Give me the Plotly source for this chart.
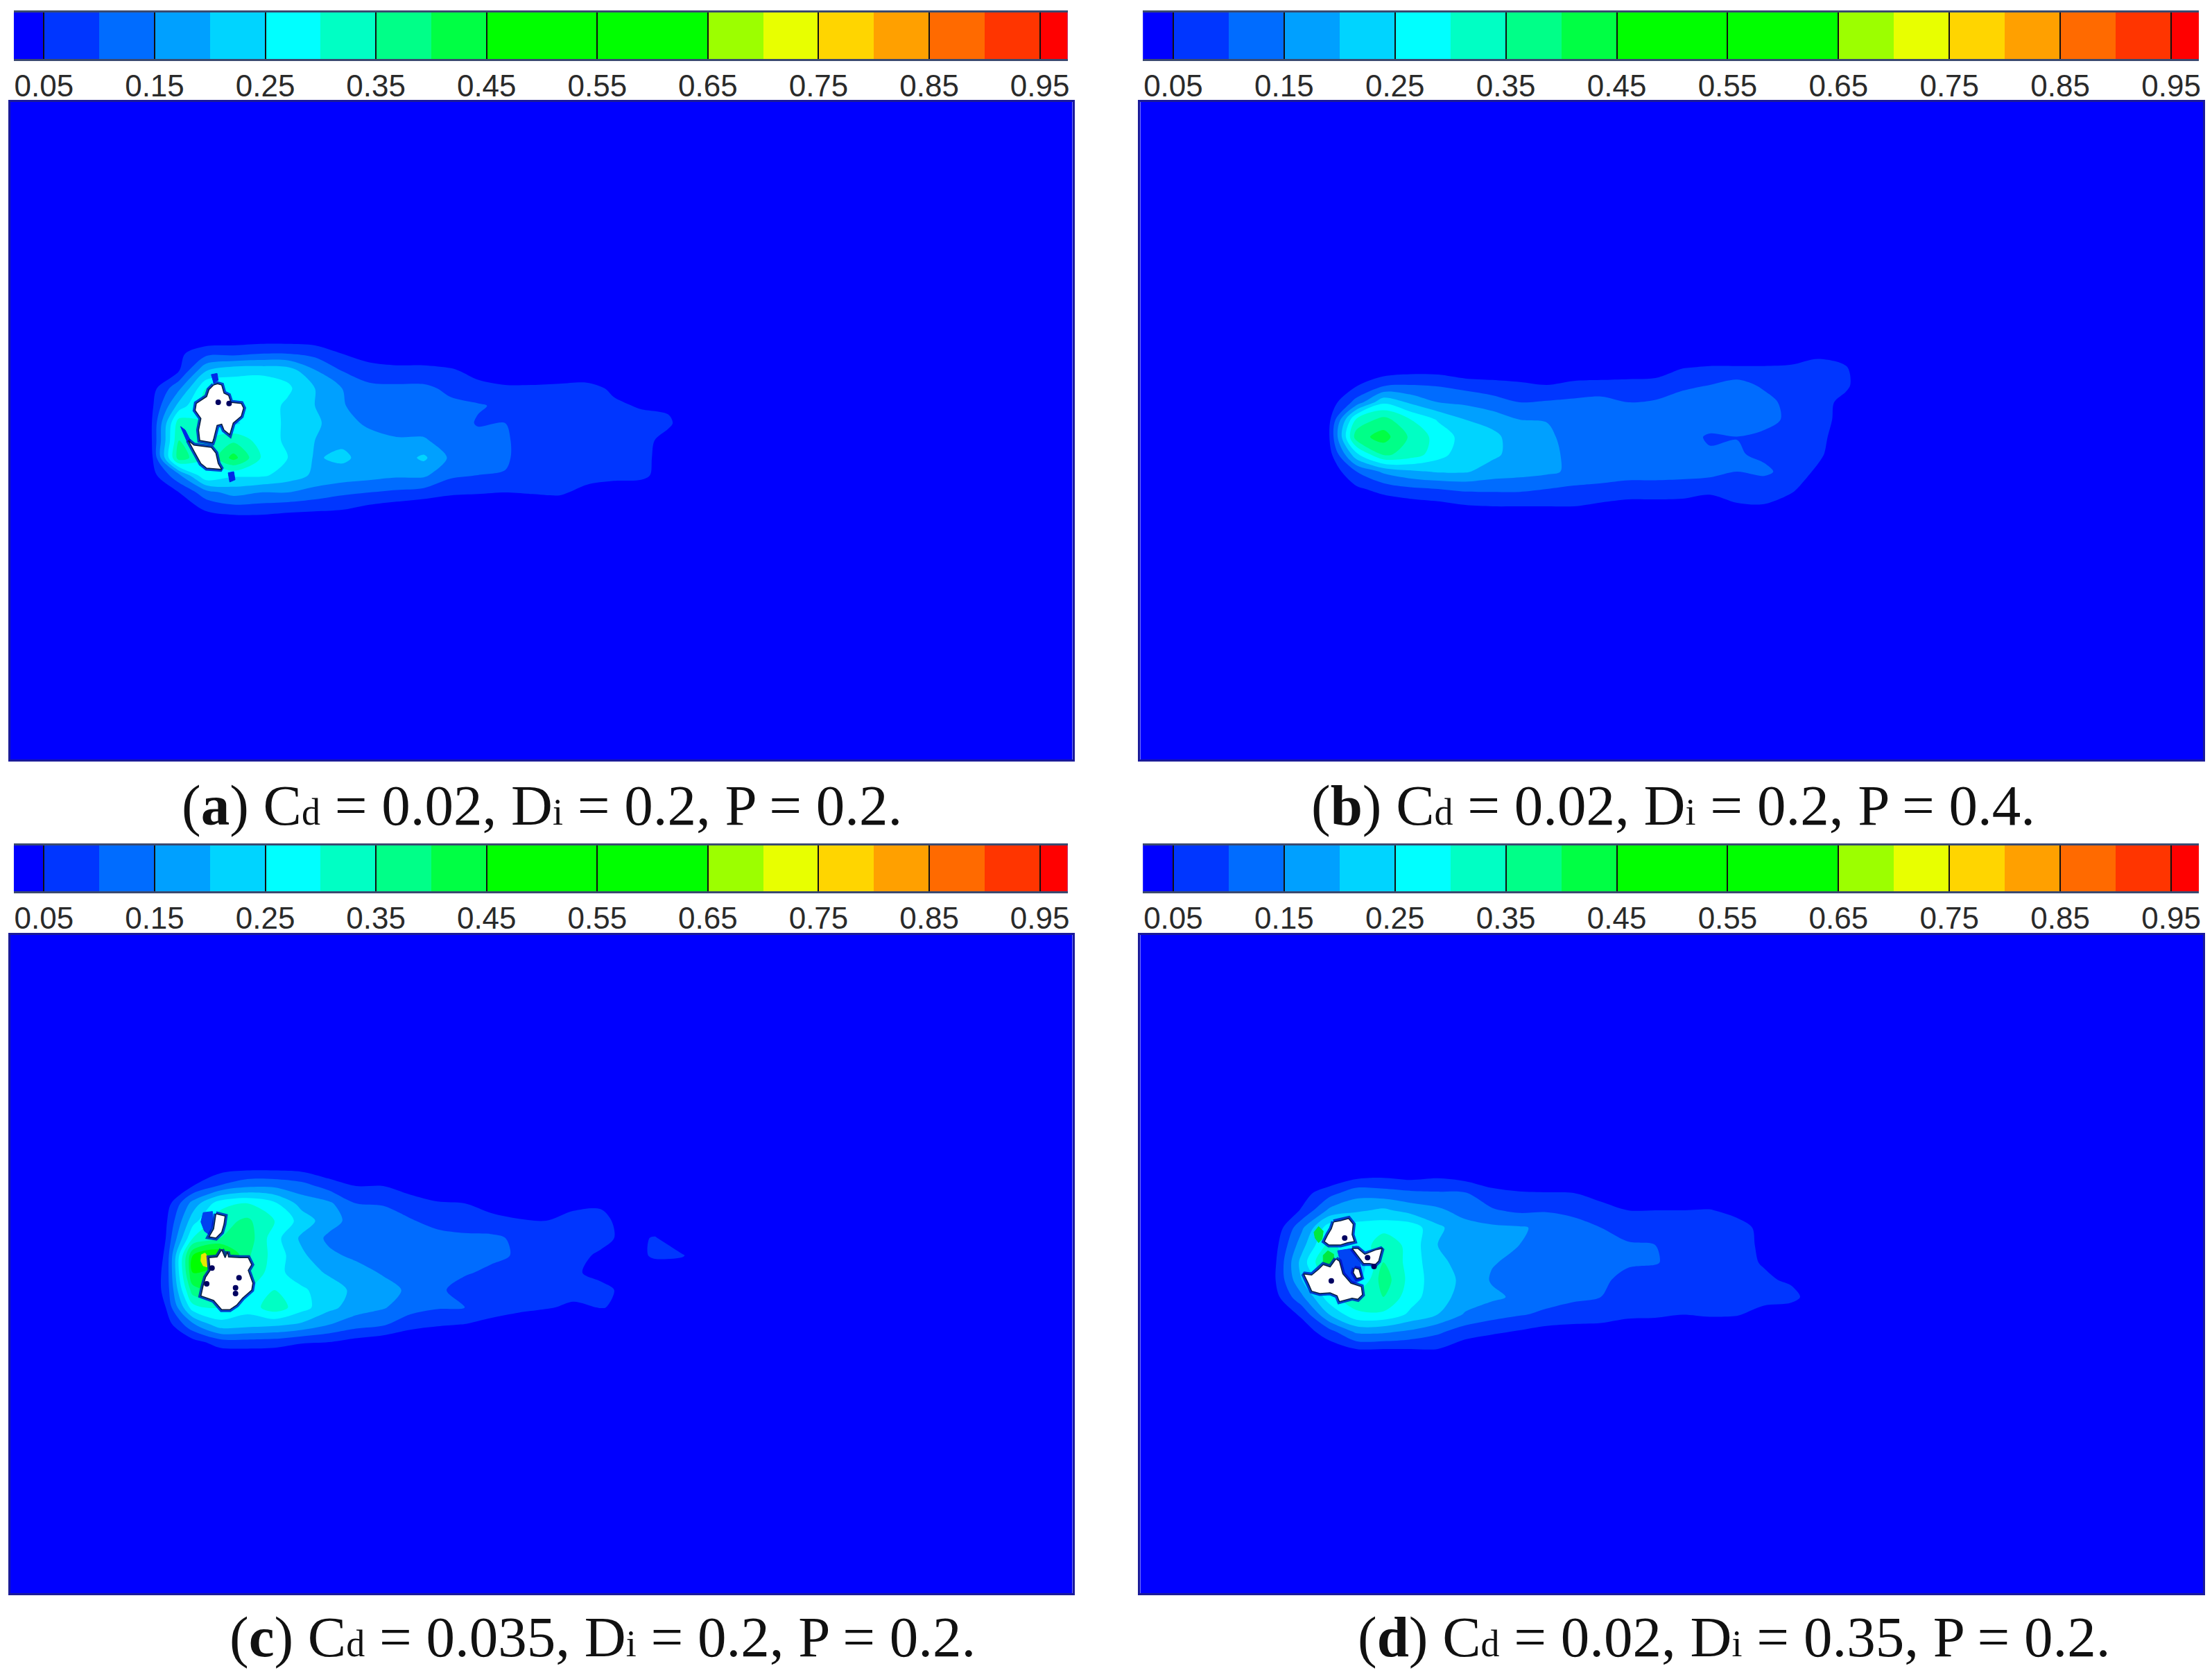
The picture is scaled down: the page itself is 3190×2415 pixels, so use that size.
import numpy as np
import plotly.graph_objects as go

# Sampling positions of the field (same sensor units in all four panels)
sample_x = [0, 75, 150, 225, 300, 375, 450, 525, 600, 675, 750, 825, 900, 975, 1050, 1125, 1200, 1275, 1350, 1425, 1500, 1575]
sample_y = [0, 75, 150, 225, 300, 375, 450, 525, 600, 675, 750, 825, 900]

# Field values in hundredths, one row per sample_y
field_a = [
 [0]*22,
 [0,0,0,0.5,1.2,1.2,1.2,1.2,0.5,0,0,0,0,0,0,0,0,0,0,0,0,0],
 [0,0,4,8.5,8.5,10,10,8.5,5,2,1,1,0,0,0,0,0,0,0,0,0,0],
 [0,1,5,20,24,24,23,15.5,10,8,7,7,6,3,1,1,1,1,0,0,0,0],
 [0,3,14,30,27,28,26,20,15,11,11,11,9,7,6,6,6.5,7,4,1,0,0],
 [0,4,22,32,30,28,24,20,15.5,12,12,12,11,10.5,9,8,8,8,6,4.5,4,0],
 [0,5,33,30,24,28,24,21,17,14,13,13,13,9.5,10,8,8,8,8,7,6,0],
 [0,5,35,30,34,28,24,20,19,17,15.5,15.5,13,12,10.5,8,8,8,8,7,3,0],
 [0,4,38,30,42,30,25,19.5,21,18,17,21,14,12,10.5,8,8,8,8,7,2,0],
 [0,3,14,30,26,26,23,19,18,17,16,16,11,10,9.8,8,8,7.5,7,6.5,2,0],
 [0,0,5,13,17,15,15,13,11,10,9,8,6,5.5,5,5.5,6,3,1,1,0,0],
 [0,0,1,5.5,7,7,6,5.5,5,3,1.5,0,0,0,0,0,0,0,0,0,0,0],
 [0]*22,
]
field_b = [
 [0]*22,
 [0,0,0,0,0,0,0,0,0,0,0,0,0,0,0,0,0,0,0,2,1,0],
 [0,0,0,1,2,2,0,0,0,0,0,0,1,2,4.8,5.5,5.5,5.5,6,8,5.5,0],
 [0,0,4.5,9,10,9.5,8,7,6,5,6.5,7,7,7,9,10,12,9,8,8,6,0],
 [0,2,12,24,19,15,14,12,10,10.5,11,11.5,10,10.5,12,13,14,12,8,7,3.5,0],
 [0,4,31,37,30,24.5,20,18,15,14.9,14,14,14,14,14,14,14,13,8,7,3,0],
 [0,5,38,42,34,28,23,21.5,17,15.5,14,14,14,14,13,9,9.9,8,7,6.5,2,0],
 [0,3,24,36,33,27,22,21,18,16,14,14,14,14,13,11,10.5,9,7,6,1,0],
 [0,1,10,16,19,20.5,20.5,18,17,16,14,13,12,12,12,12,10,11,8,4,0,0],
 [0,0,4,7,9,10,11,11,11,10,9,8.5,8,8,7.5,6,7,7,6,1,0,0],
 [0,0,0,1,2,3,4.5,5,5,5,5,4,3,3,3,3,4.5,4.7,2,0,0,0],
 [0]*22,
 [0]*22,
]
field_c = [
 [0]*22,
 [0,0,0,3,4,4,3.5,1,0,0,0,0,0,0,0,0,0,0,0,0,0,0],
 [0,0,5,10.5,14,14,12,8,5,5,3,1,0,0,0,0,0,0,0,0,0,0],
 [0,2,17,28,30,26,18,16,10,9.5,7,5.5,5,3,1,0,3.5,4,0,0,0,0],
 [0,4,23,33,36,30,23,17,13,13,10.5,8,7.5,6.5,5.5,5,7,7,2,0,0,0],
 [0,5,30,35,38,27,19,14,14,14,14,12,11,11,9,7,7,7,3,5.5,0,0],
 [0,5.5,45,50,36,28,21,16,14,14,14,12.5,13,11,9.5,7,7,4,2,6,5.5,0],
 [0,6,45,40,35,27,22,19.5,17,14.5,15,13,10.5,9,8,7,6,3,0.5,1,1,0],
 [0,6,38,40,30,30,26,22,19,17,14,11,8,7,7,7,7,7,3,0,0,0],
 [0,5,28,30,27,33,27,21.5,17.5,15.5,12,10.5,10,8,6.5,5.5,4,5.2,4.2,0,0,0],
 [0,2,14,23,22,21,19,15,12,10.5,7,5.5,4.8,3,1.5,0,0,0,0,0,0,0],
 [0,0,3,7.5,8,7.5,5.5,5,3,1.5,0,0,0,0,0,0,0,0,0,0,0,0],
 [0]*22,
]
field_d = [
 [0]*22,
 [0,0,0,3,4,3,4,2.5,0,0,0,0,0,0,0,0,0,0,0,0,0,0],
 [0,3,8,13,12,11,10.5,10.3,7,5.5,5.2,5,3,1,0,0,0,0,0,0,0,0],
 [0,5.5,16,19,21,18,16,13,10.5,9,9.5,9,7,5,5,5,5.3,3.5,0.5,0,0,0],
 [1,14,28,28,28,28,21,17,16,15.5,14,11.5,10,8,7,7,7,7,3.5,0,0,0],
 [3,18,32,25,34,28,20,18,16.5,15,13,12,11.5,10.5,10,7,7,7,4,0,0,0],
 [4,22,38,20,35,28,21,18.5,15.3,14,13,13,12.5,10.7,10.5,7.5,7,7,4.5,0.5,0,0],
 [4.5,20,30,22,38,28,22,19,14.5,14,13,12,11,8.5,7,7,7,7,6,4,0,0],
 [3,14,28,33,35,27,22,18,16,14,12,11,10,8,7,7,7,7,7,7,1,0],
 [0.5,6,20,29,29,24,20,14.5,12,10.5,9,7.5,7,6,6,5.1,5.8,5.5,3,1,0,0],
 [0,2,8,16,16,14,11,7.5,6,4.5,3,3,3,2,1,0,0,0,0,0,0,0],
 [0,0,2,5,5,5,5,2,0,0,0,0,0,0,0,0,0,0,0,0,0,0],
 [0]*22,
]

# White (no data) patches, outlines in close-up units, None separates patches
patch_a_x = [205,222,240,245,250,270,280,325,335,325,290,275,250,240,220,205,200,145,140,150,125,130,175,185,205,None,
             95,120,195,215,225,240,175,150,125,110,95]
patch_a_y = [105,100,105,125,140,150,180,185,205,240,270,320,300,275,280,340,355,345,300,250,215,185,155,125,105,None,
             345,365,375,400,445,470,465,445,400,370,345]
spots_a_x = [225, 272]
spots_a_y = [180, 185]

patch_c_x = [125,165,160,150,125,95,115,125,None,
             150,165,175,180,230,265,280,265,285,280,240,215,185,150,115,60,70,80,100,95,130,150]
patch_c_y = [75,85,120,155,180,175,140,75,None,
             230,265,240,262,265,265,295,320,375,405,440,470,490,490,450,430,385,350,320,265,262,230]
spots_c_x = [225, 210, 210, 85, 108]
spots_c_y = [352, 395, 420, 378, 310]

patch_d_x = [165,195,230,250,245,255,225,195,145,125,140,155,165,None,
             245,270,300,350,375,360,345,320,295,280,262,245,None,
             255,275,285,265,250,255,None,
             175,190,205,240,285,290,270,245,190,180,150,105,70,55,35,70,100,120,150,175]
patch_d_y = [65,60,50,75,120,150,155,165,165,150,120,95,65,None,
             180,180,205,185,180,235,250,245,245,225,200,180,None,
             265,270,305,310,285,265,None,
             225,235,290,330,345,380,400,395,410,385,372,375,365,330,290,295,270,250,260,225]
spots_d_x = [155, 213, 312, 340]
spots_d_y = [320, 135, 220, 258]

# Small coloured pockets beside the patches, close-up units
pocket_a_blue_x = [195, 220, 225, 205, 195, None, 268, 292, 298, 275, 268, None, 62, 82, 105, 90, 62]
pocket_a_blue_y = [60, 55, 85, 95, 60, None, 485, 480, 515, 525, 485, None, 285, 300, 345, 350, 285]
pocket_c_blue_x = [70, 110, 112, 95, 75, 60, 70]
pocket_c_blue_y = [70, 65, 120, 165, 150, 110, 70]
pocket_c_hot_x = [62, 78, 90, 86, 70, 60, 62]
pocket_c_hot_y = [252, 245, 262, 305, 300, 280, 252]
pocket_d_blue_x = [182, 245, 280, 290, 250, 210, 195, 182]
pocket_d_blue_y = [190, 180, 245, 315, 332, 290, 240, 190]
pocket_d_green_x = [120, 140, 165, 165, 140, 120, 120, None, 80, 100, 120, 115, 100, 85, 80]
pocket_d_green_y = [210, 190, 205, 240, 260, 240, 210, None, 110, 85, 105, 140, 155, 135, 110]

# Legend bands
band_edges = [round(0.05 * i, 2) for i in range(21)]
band_colors = ["#0000ff", "#0036ff", "#006cff", "#00a0ff", "#00d4ff", "#00ffff", "#00ffc4", "#00ff88", "#00ff44",
               "#00ff00", "#00ff00", "#00ff00", "#00ff00", "#9cff00", "#e8ff00", "#ffd500", "#ffa000", "#ff6a00", "#ff3500", "#ff0000"]
band_mids = [0.025 + 0.05 * i for i in range(20)]
tick_values = [0.05, 0.15, 0.25, 0.35, 0.45, 0.55, 0.65, 0.75, 0.85, 0.95]
tick_labels = ["0.05", "0.15", "0.25", "0.35", "0.45", "0.55", "0.65", "0.75", "0.85", "0.95"]

captions = [
    "(<b>a</b>) C<span style='font-size:54px'>d</span> = 0.02, D<span style='font-size:54px'>i</span> = 0.2, P = 0.2.",
    "(<b>b</b>) C<span style='font-size:54px'>d</span> = 0.02, D<span style='font-size:54px'>i</span> = 0.2, P = 0.4.",
    "(<b>c</b>) C<span style='font-size:54px'>d</span> = 0.035, D<span style='font-size:54px'>i</span> = 0.2, P = 0.2.",
    "(<b>d</b>) C<span style='font-size:54px'>d</span> = 0.02, D<span style='font-size:54px'>i</span> = 0.35, P = 0.2.",
]

W, H = 3190, 2415
colorscale = []
for i, c in enumerate(band_colors):
    colorscale += [[i / 20, c], [(i + 1) / 20, c]]

panels = [
    dict(field=field_a, px=patch_a_x, py=patch_a_y, dx=spots_a_x, dy=spots_a_y, shift=(114.7, 180),
         pockets=[(pocket_a_blue_x, pocket_a_blue_y, "#0028e8")],
         frame=(15, 1548, 147, 1095), xr=(-315.5, 2615.6), yr=(1905, -939), bar=(20, 1541, 18, 85), cap=(782, 1161)),
    dict(field=field_b, px=[], py=[], dx=[], dy=[], shift=(0, 0), pockets=[],
         frame=(1646, 3180, 147, 1095), xr=(-447, 2486), yr=(1845, -999), bar=(1650, 3174, 18, 85), cap=(2415, 1161)),
    dict(field=field_c, px=patch_c_x, py=patch_c_y, dx=spots_c_x, dy=spots_c_y, shift=(133.8, 195),
         pockets=[(pocket_c_blue_x, pocket_c_blue_y, "#0040f0"), (pocket_c_hot_x, pocket_c_hot_y, "#e8e800")],
         frame=(15, 1548, 1348, 2297), xr=(-353.7, 2577), yr=(1911, -936), bar=(20, 1541, 1219, 1285), cap=(870, 2360)),
    dict(field=field_d, px=patch_d_x, py=patch_d_y, dx=spots_d_x, dy=spots_d_y, shift=(57.4, 210),
         pockets=[(pocket_d_blue_x, pocket_d_blue_y, "#0044f4"), (pocket_d_green_x, pocket_d_green_y, "#00e840")],
         frame=(1646, 3180, 1348, 2297), xr=(-371, 2562), yr=(1881, -966), bar=(1650, 3174, 1219, 1285), cap=(2503, 2360)),
]

fig = go.Figure()
layout = dict(width=W, height=H, autosize=False, margin=dict(l=0, r=0, t=0, b=0),
              paper_bgcolor="white", plot_bgcolor="#0000ff", showlegend=False, annotations=[])


def to_field(xs, ys, shift):
    """Close-up units (3x, uniform) to the sensor units of the field."""
    fx = [None if v is None else shift[0] + v * 1.912 / 3 for v in xs]
    fy = [None if v is None else shift[1] + v for v in ys]
    return fx, fy


for n, p in enumerate(panels):
    s = "" if n == 0 else str(n + 1)
    l, r, t, b = p["frame"]
    axis = dict(showgrid=False, zeroline=False, showticklabels=False, ticks="", showline=True, mirror=True,
                linecolor="#1a1a9a", linewidth=3)
    layout["xaxis" + s] = dict(axis, domain=[l / W, r / W], range=list(p["xr"]), anchor="y" + s)
    layout["yaxis" + s] = dict(axis, domain=[1 - b / H, 1 - t / H], range=list(p["yr"]), anchor="x" + s)

    fig.add_trace(go.Contour(
        x=sample_x, y=sample_y, z=np.array(p["field"], dtype=float) / 100,
        xaxis="x" + s, yaxis="y" + s,
        zmin=0, zmax=1, zauto=False, colorscale=colorscale, autocontour=False, showscale=False,
        contours=dict(start=0, end=1, size=0.05, coloring="fill", showlines=False),
        line=dict(width=0, smoothing=0.9),
        hoverinfo="skip",
    ))
    for pkx, pky, col in p["pockets"]:
        fx, fy = to_field(pkx, pky, p["shift"])
        fig.add_trace(go.Scatter(x=fx, y=fy, xaxis="x" + s, yaxis="y" + s, mode="lines", fill="toself",
                                 fillcolor=col, line=dict(color=col, width=1), hoverinfo="skip"))
    if p["px"]:
        fx, fy = to_field(p["px"], p["py"], p["shift"])
        fig.add_trace(go.Scatter(x=fx, y=fy, xaxis="x" + s, yaxis="y" + s, mode="lines",
                                 line=dict(color="#0008c0", width=7), opacity=0.75, hoverinfo="skip"))
        fig.add_trace(go.Scatter(x=fx, y=fy, xaxis="x" + s, yaxis="y" + s, mode="lines", fill="toself",
                                 fillcolor="white", line=dict(color="#0a2040", width=1.5), hoverinfo="skip"))
        sx, sy = to_field(p["dx"], p["dy"], p["shift"])
        fig.add_trace(go.Scatter(x=sx, y=sy, xaxis="x" + s, yaxis="y" + s, mode="markers",
                                 marker=dict(color="#000060", size=8), hoverinfo="skip"))

    # legend strip drawn as its own heatmap on its own axes
    bl, br, bt, bb = p["bar"]
    sb = str(n + 5)
    layout["xaxis" + sb] = dict(domain=[bl / W, br / W], range=[0.0228, 0.975], anchor="y" + sb, showgrid=False, zeroline=False,
                                tickmode="array", tickvals=tick_values, ticktext=tick_labels, ticks="inside",
                                ticklen=bb - bt, tickcolor="#111111", tickwidth=1.5, side="bottom",
                                tickfont=dict(family="Liberation Sans", size=44, color="#2a2a2a"),
                                ticklabelstandoff=-2, showline=True, mirror=True, linecolor="#3a4a70", linewidth=3)
    layout["yaxis" + sb] = dict(domain=[1 - bb / H, 1 - bt / H], range=[0, 1], anchor="x" + sb, showgrid=False, zeroline=False,
                                showticklabels=False, ticks="")
    fig.add_trace(go.Heatmap(x=band_edges, y=[0, 1], z=[band_mids], xaxis="x" + sb, yaxis="y" + sb,
                             zmin=0, zmax=1, colorscale=colorscale, showscale=False, hoverinfo="skip"))

    cx, cy = p["cap"]
    layout["annotations"].append(dict(text=captions[n], x=cx / W, y=1 - cy / H, xref="paper", yref="paper",
                                      xanchor="center", yanchor="middle", showarrow=False,
                                      font=dict(family="Liberation Serif", size=83, color="#111111")))

fig.update_layout(**layout)
fig.write_html("out.html", config={"displayModeBar": False},
               post_script="document.body.style.margin='0';document.body.style.overflow='hidden';")
